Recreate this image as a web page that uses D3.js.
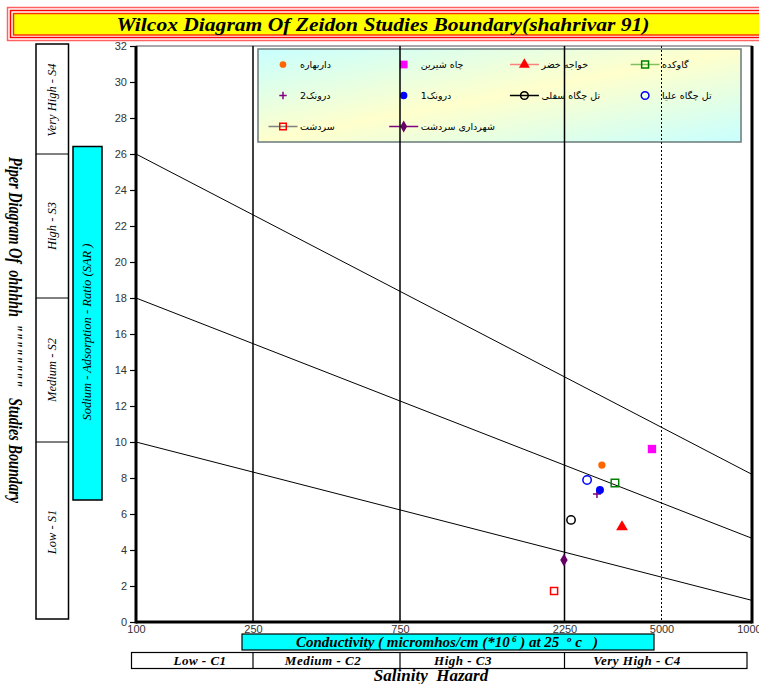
<!DOCTYPE html>
<html><head><meta charset="utf-8">
<script src="https://cdn.jsdelivr.net/npm/d3@7"></script>
<style>html,body{margin:0;padding:0;background:#fff;overflow:hidden}</style>
</head><body>
<svg id="c" width="759" height="684"></svg>
<script>
// ---------- data ----------
const titleText = "Wilcox Diagram Of Zeidon Studies Boundary(shahrivar 91)";
const xTicks = [100, 250, 750, 2250, 5000, 10000];
const yTicks = [0, 2, 4, 6, 8, 10, 12, 14, 16, 18, 20, 22, 24, 26, 28, 30, 32];
const sites = ["داربهاره", "چاه شیرین", "خواجه خضر", "گاوکده", "درونک2", "درونک1", "تل چگاه سفلی", "تل چگاه علیا", "سردشت", "شهرداری سردشت"];
const ec  = [3310, 4730, 3880, 3680, 3170, 3255, 2435, 2890, 2155, 2245];
const sar = [8.72, 9.61, 5.28, 7.72, 7.11, 7.33, 5.67, 7.89, 1.72, 3.44];
const boundaryStartSAR = [26, 18, 10];
const boundaryEndSAR = [8.2, 4.65, 1.2];
const sClasses = ["Very High - S4", "High - S3", "Medium - S2", "Low - S1"];
const sBreaks = [32, 26, 18, 10, 0];
const cClasses = ["Low - C1", "Medium - C2", "High - C3", "Very High - C4"];
const cBreaks = [100, 250, 750, 2250, 10000];

// ---------- styles ----------
const markerStyle = [
  {type: "circle", size: 42, fill: "#ff6600", stroke: "none"},
  {type: "square", size: 70, fill: "#ff00ff", stroke: "none"},
  {type: "triangle", size: 60, fill: "#ff0000", stroke: "none", line: "#ff8080"},
  {type: "square", size: 56, fill: "none", stroke: "#008000", line: "#80c060"},
  {type: "plus", size: 8, fill: "none", stroke: "#800080"},
  {type: "circle", size: 50, fill: "#0000ff", stroke: "none"},
  {type: "circle", size: 55, fill: "none", stroke: "#000000", line: "#000000"},
  {type: "circle", size: 55, fill: "none", stroke: "#0000ff"},
  {type: "square", size: 50, fill: "none", stroke: "#ff0000", line: "#808080"},
  {type: "diamond", size: 48, fill: "#660066", stroke: "none", line: "#800080"}
];
const cLabelX = [200, 323, 463, 637];

const svg = d3.select("#c");
const serif = "'Liberation Serif','Times New Roman',serif";
const sans = "'Liberation Sans',Arial,sans-serif";

const x = d3.scaleLinear().domain(xTicks).range([136, 253, 400, 564.5, 661.5, 752]);
const y = d3.scaleLinear().domain([0, 32]).range([622, 46]);

// ---------- title ----------
const tg = svg.append("g");
tg.append("rect").attr("x", 7.5).attr("y", 7.5).attr("width", 760).attr("height", 33)
  .attr("fill", "#fff").attr("stroke", "#ff6060").attr("stroke-width", 1.5);
tg.append("rect").attr("x", 10.5).attr("y", 10.5).attr("width", 760).attr("height", 27)
  .attr("fill", "none").attr("stroke", "#ff0000").attr("stroke-width", 1.5);
tg.append("rect").attr("x", 13.5).attr("y", 13.5).attr("width", 760).attr("height", 21.5)
  .attr("fill", "#ffff00").attr("stroke", "#ff3000").attr("stroke-width", 1.5);
tg.append("text").attr("x", 383).attr("y", 30.5).attr("text-anchor", "middle")
  .attr("font-family", serif).attr("font-style", "italic").attr("font-weight", "bold")
  .attr("font-size", 18).attr("textLength", 533).attr("lengthAdjust", "spacingAndGlyphs").text(titleText);

// ---------- plot frame ----------
svg.append("rect").attr("x", x(100)).attr("y", y(32)).attr("width", x(10000) - x(100)).attr("height", y(0) - y(32))
  .attr("fill", "#fff").attr("stroke", "#555").attr("stroke-width", 1);

// legend box (behind lines)
const lg = svg.append("g");
const defs = svg.append("defs");
const grad = defs.append("linearGradient").attr("id", "lgGrad").attr("x1", 0).attr("y1", 0).attr("x2", 1).attr("y2", 1);
grad.append("stop").attr("offset", 0).attr("stop-color", "#c8ffff");
grad.append("stop").attr("offset", 0.5).attr("stop-color", "#ffffcc");
grad.append("stop").attr("offset", 1).attr("stop-color", "#c8ffff");
lg.append("rect").attr("x", 258).attr("y", 49).attr("width", 483).attr("height", 93)
  .attr("fill", "url(#lgGrad)").attr("stroke", "#6a7a7a").attr("stroke-width", 1.5);

// vertical class lines
[250, 750, 2250].forEach(v => {
  svg.append("line").attr("x1", x(v)).attr("x2", x(v)).attr("y1", y(32)).attr("y2", y(0))
    .attr("stroke", "#000").attr("stroke-width", 1.5);
});
svg.append("line").attr("x1", x(5000)).attr("x2", x(5000)).attr("y1", y(32)).attr("y2", y(0))
  .attr("stroke", "#000").attr("stroke-width", 1).attr("stroke-dasharray", "2,2");

// boundary lines
boundaryStartSAR.forEach((s, i) => {
  svg.append("line").attr("x1", x(100)).attr("y1", y(s)).attr("x2", x(10000)).attr("y2", y(boundaryEndSAR[i]))
    .attr("stroke", "#000").attr("stroke-width", 1);
});

// thick axes
svg.append("line").attr("x1", x(100)).attr("x2", x(100)).attr("y1", y(32)).attr("y2", y(0) + 1.5)
  .attr("stroke", "#000").attr("stroke-width", 3);
svg.append("line").attr("x1", x(10000)).attr("x2", x(10000)).attr("y1", y(32)).attr("y2", y(0) + 1.5)
  .attr("stroke", "#000").attr("stroke-width", 3);
svg.append("line").attr("x1", x(100)).attr("x2", x(10000)).attr("y1", y(0)).attr("y2", y(0))
  .attr("stroke", "#000").attr("stroke-width", 3);

// y axis ticks
const ya = svg.append("g").attr("transform", `translate(${x(100) - 1},0)`)
  .call(d3.axisLeft(y).tickValues(yTicks).tickSize(5).tickPadding(3).tickFormat(d3.format("d")));
ya.select(".domain").remove();
ya.selectAll("text").attr("font-family", sans).attr("font-size", 11).attr("fill", "#333");
ya.selectAll("line").attr("stroke", "#000").attr("stroke-width", 1.2);

// x axis labels
const xa = svg.append("g").attr("transform", `translate(0,${y(0)})`)
  .call(d3.axisBottom(x).tickValues(xTicks).tickSize(0).tickPadding(3).tickFormat(d3.format("d")));
xa.select(".domain").remove();
xa.selectAll("text").attr("font-family", sans).attr("font-size", 11).attr("fill", "#333");

// ---------- markers ----------
function drawMarker(g, st, cx, cy, scale) {
  const k = scale || 1;
  if (st.type === "plus") {
    const h = st.size / 2 * Math.sqrt(k);
    g.append("path").attr("d", `M${cx - h},${cy}H${cx + h}M${cx},${cy - h}V${cy + h}`)
      .attr("stroke", st.stroke).attr("stroke-width", 1.5).attr("fill", "none");
    return;
  }
  const t = {circle: d3.symbolCircle, square: d3.symbolSquare, triangle: d3.symbolTriangle, diamond: d3.symbolDiamond}[st.type];
  g.append("path").attr("d", d3.symbol().type(t).size(st.size * k)())
    .attr("transform", `translate(${cx},${cy})`)
    .attr("fill", st.fill).attr("stroke", st.stroke).attr("stroke-width", 1.5);
}

const pg = svg.append("g");
sites.forEach((s, i) => drawMarker(pg, markerStyle[i], x(ec[i]), y(sar[i])));

// ---------- legend entries ----------
sites.forEach((s, i) => {
  const col = i % 4, row = Math.floor(i / 4);
  const mx = 283 + col * 120.7, my = 64.5 + row * 31;
  const st = markerStyle[i];
  if (st.line) {
    lg.append("line").attr("x1", mx - 14.5).attr("x2", mx + 14.5).attr("y1", my).attr("y2", my)
      .attr("stroke", st.line).attr("stroke-width", 1.5);
  }
  drawMarker(lg, st, mx, my, 0.85);
  lg.append("text").attr("x", mx + 17).attr("y", my + 3.5).attr("font-family", "'DejaVu Sans',sans-serif")
    .attr("font-size", 9.5).attr("fill", "#000").text(s);
});

// ---------- left S class column ----------
const sg = svg.append("g");
sg.append("rect").attr("x", 36).attr("y", y(32) - 2).attr("width", 32.5).attr("height", y(0) - y(32) - 1)
  .attr("fill", "#fff").attr("stroke", "#000").attr("stroke-width", 1.5);
sBreaks.slice(1, 4).forEach(b => {
  sg.append("line").attr("x1", 36).attr("x2", 68.5).attr("y1", y(b)).attr("y2", y(b))
    .attr("stroke", "#000").attr("stroke-width", 1);
});
sClasses.forEach((c, i) => {
  const cy = (y(sBreaks[i]) + y(sBreaks[i + 1])) / 2;
  sg.append("text").attr("transform", `translate(56,${cy}) rotate(-90)`).attr("text-anchor", "middle")
    .attr("font-family", serif).attr("font-style", "italic").attr("font-size", 12.5).text(c);
});

// SAR label box
svg.append("rect").attr("x", 73).attr("y", 146.5).attr("width", 29).attr("height", 353.5)
  .attr("fill", "#00ffff").attr("stroke", "#000").attr("stroke-width", 1.5);
svg.append("text").attr("transform", "translate(91,332) rotate(-90)").attr("text-anchor", "middle")
  .attr("font-family", serif).attr("font-style", "italic").attr("font-size", 13)
  .attr("textLength", 177).attr("lengthAdjust", "spacingAndGlyphs")
  .text("Sodium - Adsorption - Ratio (SAR )");

// outer rotated title
svg.append("text").attr("transform", "translate(9,330) rotate(90)").attr("text-anchor", "middle")
  .attr("font-family", serif).attr("font-style", "italic").attr("font-weight", "bold").attr("font-size", 19)
  .attr("xml:space", "preserve").attr("textLength", 346).attr("lengthAdjust", "spacingAndGlyphs")
  .text("Piper Diagram Of  ohhhhh  \"\"\"\"\"\"\"\"   Studies Boundary");

// ---------- bottom ----------
svg.append("rect").attr("x", 242).attr("y", 634).attr("width", 412).attr("height", 16)
  .attr("fill", "#00ffff").attr("stroke", "#000").attr("stroke-width", 1.2);
const ct = svg.append("text").attr("x", 447).attr("y", 647).attr("text-anchor", "middle")
  .attr("font-family", serif).attr("font-style", "italic").attr("font-weight", "bold").attr("font-size", 15)
  .attr("xml:space", "preserve");
ct.append("tspan").text("Conductivity ( micromhos/cm (*10");
ct.append("tspan").attr("dy", -5).attr("font-size", 9).text(" 6");
ct.append("tspan").attr("dy", 5).text(" ) at 25  ");
ct.append("tspan").attr("dy", -5).attr("font-size", 9).text("o");
ct.append("tspan").attr("dy", 5).text(" c   )");

const cg = svg.append("g");
cg.append("rect").attr("x", 131.5).attr("y", 652.5).attr("width", 615.5).attr("height", 16)
  .attr("fill", "#fff").attr("stroke", "#000").attr("stroke-width", 1.2);
cClasses.forEach((c, i) => {
  if (i > 0) cg.append("line").attr("x1", x(cBreaks[i])).attr("x2", x(cBreaks[i])).attr("y1", 652.5).attr("y2", 668.5)
    .attr("stroke", "#000").attr("stroke-width", 1.2);
  cg.append("text").attr("x", cLabelX[i]).attr("y", 664.5).attr("text-anchor", "middle")
    .attr("font-family", serif).attr("font-style", "italic").attr("font-weight", "bold").attr("font-size", 13)
    .attr("letter-spacing", 0.5).attr("xml:space", "preserve").text(c);
});
svg.append("text").attr("x", 431).attr("y", 681).attr("text-anchor", "middle")
  .attr("font-family", serif).attr("font-style", "italic").attr("font-weight", "bold").attr("font-size", 17)
  .attr("xml:space", "preserve").text("Salinity  Hazard");
</script>
</body></html>
